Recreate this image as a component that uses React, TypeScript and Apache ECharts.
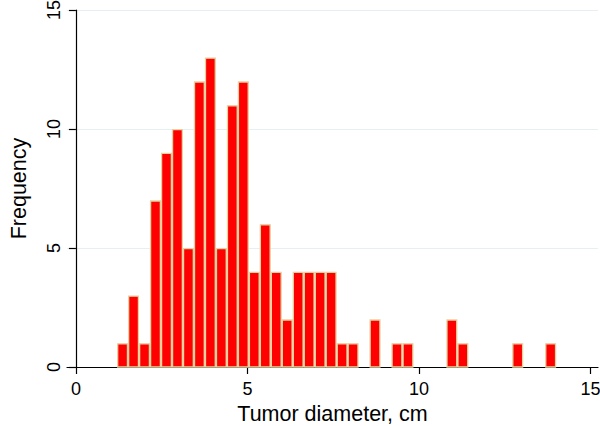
import React, { useEffect, useRef } from "react";
import * as echarts from "echarts";

// Histogram definition
const binStart = 1.2;
const binWidth = 0.32;
const counts = [
  1, 3, 1, 7, 9, 10, 5, 12, 13, 5, 11, 12, 4, 6, 4, 2, 4, 4, 4, 4, 1, 1,
  0, 2, 0, 1, 1, 0, 0, 0, 2, 1, 0, 0, 0, 0, 1, 0, 0, 1,
];
const xTicks = [0, 5, 10, 15];
const yTicks = [0, 5, 10, 15];

const FONT = "'Liberation Sans', Arial, Helvetica, sans-serif";

export default function App() {
  const ref = useRef<HTMLDivElement>(null);
  useEffect(() => {
    if (!ref.current) return;
    const chart = echarts.init(ref.current, null, { renderer: "svg" });
    const data = counts.map((c, i) => [binStart + i * binWidth, binStart + (i + 1) * binWidth, c]);
    chart.setOption({
      animation: false,
      backgroundColor: "#ffffff",
      grid: { left: 67, right: 2, top: 10, bottom: 59, containLabel: false, outerBoundsMode: "none" },
      xAxis: {
        type: "value",
        min: -0.26,
        max: 15.22,
        name: "Tumor diameter, cm",
        nameLocation: "middle",
        nameGap: 36,
        nameTextStyle: { fontFamily: FONT, fontSize: 21.5, color: "#000" },
        axisLine: { show: true, onZero: false, lineStyle: { color: "#000", width: 1.2 } },
        axisTick: { show: true, customValues: xTicks, length: 7, lineStyle: { color: "#000", width: 1.2 } },
        axisLabel: { customValues: xTicks, fontFamily: FONT, fontSize: 18, color: "#000", margin: 13 },
        splitLine: { show: false },
      },
      yAxis: {
        type: "value",
        min: 0,
        max: 15,
        interval: 5,
        name: "Frequency",
        nameLocation: "middle",
        nameRotate: 90,
        nameGap: 37,
        nameTextStyle: { fontFamily: FONT, fontSize: 21.5, color: "#000" },
        axisLine: { show: true, lineStyle: { color: "#000", width: 1.2 } },
        axisTick: { show: true, length: 7, lineStyle: { color: "#000", width: 1.2 } },
        axisLabel: {
          fontFamily: FONT,
          fontSize: 18,
          color: "#000",
          rotate: 90,
          margin: 4,
          formatter: (v: number) => (yTicks.includes(v) ? String(v) : ""),
        },
        splitLine: { show: true, lineStyle: { color: "#e6eff1", width: 1.2 } },
      },
      series: [
        {
          type: "custom",
          data,
          encode: { x: [0, 1], y: 2 },
          renderItem: (params: any, api: any) => {
            const c = api.value(2);
            if (!c) return null;
            const p0 = api.coord([api.value(0), 0]);
            const p1 = api.coord([api.value(1), c]);
            return {
              type: "rect",
              shape: { x: p0[0] + 0.6, y: p1[1] + 0.6, width: p1[0] - p0[0] - 1.2, height: p0[1] - p1[1] - 0.6 },
              style: { fill: "#ff0000", stroke: "#e2d3a0", lineWidth: 1.3 },
            };
          },
        },
      ],
    });
    return () => chart.dispose();
  }, []);
  return <div ref={ref} style={{ width: 600, height: 426, position: "absolute", left: 0, top: 0 }} />;
}
